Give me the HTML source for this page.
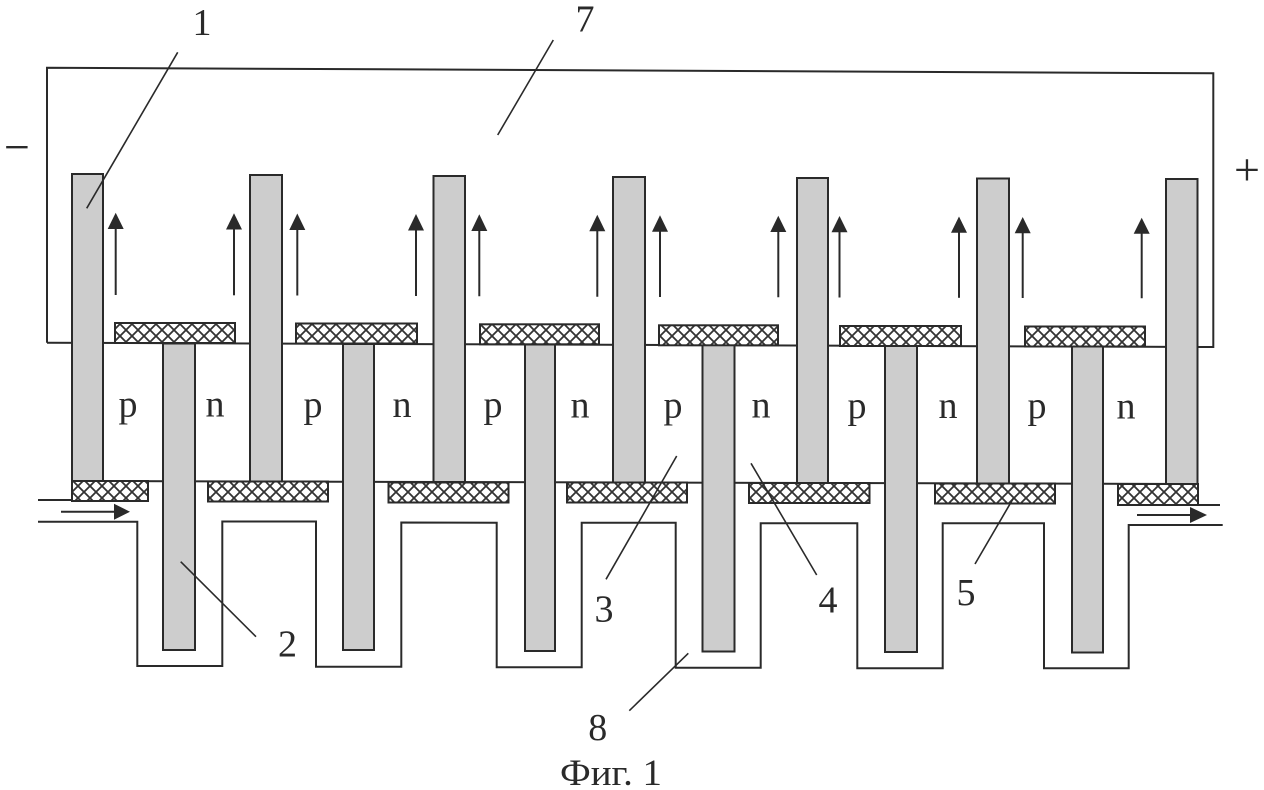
<!DOCTYPE html>
<html><head><meta charset="utf-8"><style>
html,body{margin:0;padding:0;background:#fff;}
svg{display:block;}
text{font-family:"Liberation Serif","DejaVu Serif",serif;fill:#2a2a2a;}
</style></head><body>
<svg width="1264" height="790" viewBox="0 0 1264 790" xmlns="http://www.w3.org/2000/svg">
<defs>
<pattern id="h" width="12" height="12" patternUnits="userSpaceOnUse">
<rect width="12" height="12" fill="#fff"/>
<path d="M0 0L12 12M12 0L0 12" stroke="#333" stroke-width="1.8" fill="none"/>
</pattern>
</defs>
<g stroke="#2a2a2a" stroke-width="2" fill="none">
<polyline points="47,342.7 47,67.7 1213.3,73.3 1213.3,347 1197,347"/>
<line x1="47" y1="342.7" x2="1197" y2="347"/>
<line x1="72" y1="481" x2="1198" y2="484"/>
<line x1="38" y1="500" x2="72" y2="500"/>
<line x1="1198" y1="505" x2="1220" y2="505"/>
<polyline points="38,521.7 137.3,521.7 137.3,666 222.3,666 222.3,521.5 316,521.5 316,666.7 401.3,666.7 401.3,522.5 496.7,522.7 496.7,667.3 581.7,667.3 581.7,522.7 675.7,522.7 675.7,667.7 760.7,667.7 760.7,523.3 857.3,523.3 857.3,668.3 942.7,668.3 942.7,523.3 1044,523.3 1044,668.3 1128.7,668.3 1128.7,525 1222.7,525"/>
</g>
<g stroke="#2a2a2a" stroke-width="2" fill="#cdcdcd">
<rect x="72" y="174" width="31" height="307"/>
<rect x="250" y="175" width="32" height="306.5"/>
<rect x="433.5" y="176" width="31.5" height="306"/>
<rect x="613" y="177" width="32" height="305.5"/>
<rect x="797" y="178" width="31" height="305"/>
<rect x="977" y="178.5" width="32" height="305"/>
<rect x="1166" y="179" width="31.5" height="305"/>
<rect x="163" y="343.5" width="32" height="306.5"/>
<rect x="343" y="344" width="31" height="306"/>
<rect x="525" y="344.5" width="30" height="306.5"/>
<rect x="702.5" y="345" width="32" height="306.5"/>
<rect x="885" y="345.5" width="32" height="306.5"/>
<rect x="1072" y="346" width="31" height="306.5"/>
</g>
<g stroke="#2a2a2a" stroke-width="2" fill="url(#h)">
<rect x="115" y="323" width="120" height="20"/>
<rect x="296" y="323.5" width="121" height="20"/>
<rect x="480" y="324.3" width="119" height="20"/>
<rect x="659" y="325.3" width="119" height="20"/>
<rect x="840" y="326" width="121" height="20"/>
<rect x="1025" y="326.5" width="120" height="20"/>
<rect x="72" y="481" width="76" height="20"/>
<rect x="208" y="481.5" width="120" height="20"/>
<rect x="388.5" y="482.5" width="120" height="20"/>
<rect x="567" y="482.5" width="120" height="20"/>
<rect x="749" y="483" width="120.5" height="20"/>
<rect x="935" y="483.5" width="120" height="20"/>
<rect x="1118" y="484" width="80" height="21"/>
</g>
<g stroke="#2a2a2a" stroke-width="2" fill="none">
<line x1="115.7" y1="295" x2="115.7" y2="226"/>
<line x1="234" y1="295.3" x2="234" y2="226.5"/>
<line x1="297.3" y1="295.5" x2="297.3" y2="227"/>
<line x1="416" y1="296" x2="416" y2="227.5"/>
<line x1="479.3" y1="296.3" x2="479.3" y2="228"/>
<line x1="597.3" y1="296.7" x2="597.3" y2="228.5"/>
<line x1="660" y1="297" x2="660" y2="229"/>
<line x1="778.3" y1="297.3" x2="778.3" y2="229.3"/>
<line x1="839.5" y1="297.5" x2="839.5" y2="229.5"/>
<line x1="959" y1="297.8" x2="959" y2="230"/>
<line x1="1022.7" y1="298" x2="1022.7" y2="230.3"/>
<line x1="1141.7" y1="298.3" x2="1141.7" y2="230.7"/>
<line x1="61" y1="511.7" x2="118" y2="511.7"/>
<line x1="1137" y1="515" x2="1194" y2="515"/>
</g>
<g fill="#2a2a2a">
<polygon points="115.7,212.7 107.7,229 123.7,229"/>
<polygon points="234,213.2 226,229.5 242,229.5"/>
<polygon points="297.3,213.5 289.3,230 305.3,230"/>
<polygon points="416,214 408,230.5 424,230.5"/>
<polygon points="479.3,214.3 471.3,231 487.3,231"/>
<polygon points="597.3,214.8 589.3,231.3 605.3,231.3"/>
<polygon points="660,215.3 652,231.7 668,231.7"/>
<polygon points="778.3,215.7 770.3,232 786.3,232"/>
<polygon points="839.5,216 831.5,232.3 847.5,232.3"/>
<polygon points="959,216.5 951,232.8 967,232.8"/>
<polygon points="1022.7,217 1014.7,233.2 1030.7,233.2"/>
<polygon points="1141.7,217.7 1133.7,233.8 1149.7,233.8"/>
<polygon points="130,511.7 114,503.7 114,519.7"/>
<polygon points="1207,515 1190,507 1190,523"/>
</g>
<g stroke="#2a2a2a" stroke-width="1.6" fill="none">
<line x1="177.7" y1="52.3" x2="86.7" y2="208.3"/>
<line x1="553.3" y1="40" x2="497.7" y2="135"/>
<line x1="180.7" y1="561.7" x2="256" y2="636.7"/>
<line x1="676.7" y1="456" x2="606" y2="579.3"/>
<line x1="751" y1="463.3" x2="816.7" y2="575"/>
<line x1="1013.3" y1="498.3" x2="975" y2="564"/>
<line x1="688.3" y1="653.3" x2="629.3" y2="710.7"/>
</g>
<g font-size="38" text-anchor="middle">
<text x="202" y="35">1</text>
<text x="585" y="31.7">7</text>
<text x="287.5" y="656.5">2</text>
<text x="604" y="621.5">3</text>
<text x="828" y="612.5">4</text>
<text x="966" y="605">5</text>
<text x="597.7" y="740">8</text>
</g>
<g font-size="46" text-anchor="middle">
<text x="17" y="162.5">−</text>
<text x="1247" y="185">+</text>
</g>
<g font-size="38" text-anchor="middle">
<text x="128" y="416.5">p</text>
<text x="215" y="416.6">n</text>
<text x="313" y="416.8">p</text>
<text x="402" y="416.9">n</text>
<text x="493" y="417.1">p</text>
<text x="580" y="417.3">n</text>
<text x="673" y="417.5">p</text>
<text x="761" y="417.6">n</text>
<text x="857" y="417.8">p</text>
<text x="948" y="418">n</text>
<text x="1037" y="418.1">p</text>
<text x="1126" y="418.3">n</text>
</g>
<text x="611" y="785" font-size="37" text-anchor="middle" textLength="102" lengthAdjust="spacingAndGlyphs">Фиг. 1</text>
</svg>
</body></html>
